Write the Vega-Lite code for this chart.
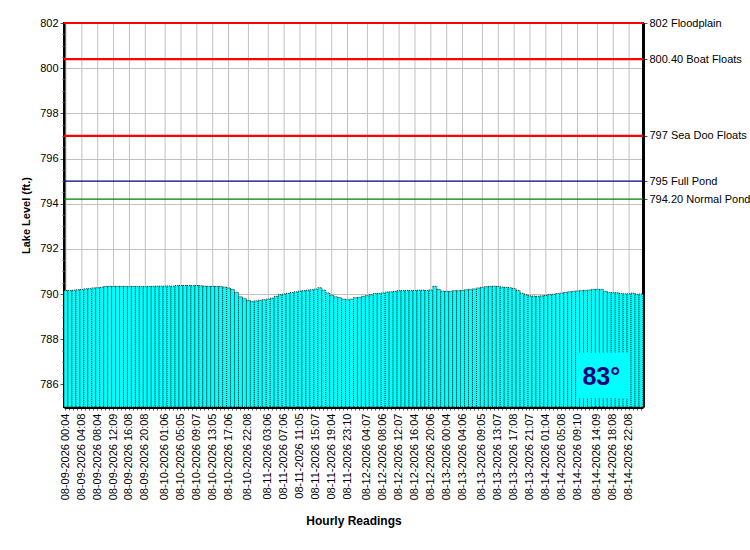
{
  "$schema": "https://vega.github.io/schema/vega-lite/v6.json",
  "width": 579,
  "height": 384,
  "autosize": {"type": "none"},
  "padding": {"left": 64, "top": 23, "right": 107, "bottom": 143},
  "background": "white",
  "params": [
    {
      "name": "labs",
      "value": [
        "08-09-2026 00:04", "08-09-2026 04:08", "08-09-2026 08:04", "08-09-2026 12:09", "08-09-2026 16:08", "08-09-2026 20:08",
        "08-10-2026 01:06", "08-10-2026 05:05", "08-10-2026 09:07", "08-10-2026 13:05", "08-10-2026 17:06", "08-10-2026 22:08",
        "08-11-2026 03:06", "08-11-2026 07:06", "08-11-2026 11:05", "08-11-2026 15:07", "08-11-2026 19:04", "08-11-2026 23:10",
        "08-12-2026 04:07", "08-12-2026 08:06", "08-12-2026 12:07", "08-12-2026 16:04", "08-12-2026 20:06",
        "08-13-2026 00:04", "08-13-2026 04:06", "08-13-2026 09:05", "08-13-2026 13:07", "08-13-2026 17:08", "08-13-2026 21:07",
        "08-14-2026 01:04", "08-14-2026 05:08", "08-14-2026 09:10", "08-14-2026 14:09", "08-14-2026 18:08", "08-14-2026 22:08"
      ]
    }
  ],
  "datasets": {
    "readings": [
      {"time": "08-09-2026 00:04", "level": 790.16},
      {"time": "08-09-2026 01:05", "level": 790.16},
      {"time": "08-09-2026 02:05", "level": 790.17},
      {"time": "08-09-2026 03:05", "level": 790.19},
      {"time": "08-09-2026 04:08", "level": 790.20},
      {"time": "08-09-2026 05:05", "level": 790.23},
      {"time": "08-09-2026 06:05", "level": 790.24},
      {"time": "08-09-2026 07:05", "level": 790.27},
      {"time": "08-09-2026 08:04", "level": 790.28},
      {"time": "08-09-2026 09:05", "level": 790.30},
      {"time": "08-09-2026 10:05", "level": 790.33},
      {"time": "08-09-2026 11:05", "level": 790.34},
      {"time": "08-09-2026 12:09", "level": 790.34},
      {"time": "08-09-2026 13:05", "level": 790.34},
      {"time": "08-09-2026 14:05", "level": 790.34},
      {"time": "08-09-2026 15:05", "level": 790.33},
      {"time": "08-09-2026 16:08", "level": 790.33},
      {"time": "08-09-2026 17:05", "level": 790.34},
      {"time": "08-09-2026 18:05", "level": 790.33},
      {"time": "08-09-2026 19:05", "level": 790.33},
      {"time": "08-09-2026 20:08", "level": 790.33},
      {"time": "08-09-2026 21:05", "level": 790.34},
      {"time": "08-09-2026 22:05", "level": 790.34},
      {"time": "08-09-2026 23:05", "level": 790.35},
      {"time": "08-10-2026 00:05", "level": 790.35},
      {"time": "08-10-2026 01:06", "level": 790.35},
      {"time": "08-10-2026 02:05", "level": 790.36},
      {"time": "08-10-2026 03:05", "level": 790.35},
      {"time": "08-10-2026 04:05", "level": 790.37},
      {"time": "08-10-2026 05:05", "level": 790.38},
      {"time": "08-10-2026 06:05", "level": 790.38},
      {"time": "08-10-2026 07:05", "level": 790.38},
      {"time": "08-10-2026 08:05", "level": 790.37},
      {"time": "08-10-2026 09:07", "level": 790.38},
      {"time": "08-10-2026 10:05", "level": 790.37},
      {"time": "08-10-2026 11:05", "level": 790.35},
      {"time": "08-10-2026 12:05", "level": 790.34},
      {"time": "08-10-2026 13:05", "level": 790.34},
      {"time": "08-10-2026 14:05", "level": 790.34},
      {"time": "08-10-2026 15:05", "level": 790.33},
      {"time": "08-10-2026 16:05", "level": 790.31},
      {"time": "08-10-2026 17:06", "level": 790.27},
      {"time": "08-10-2026 18:05", "level": 790.20},
      {"time": "08-10-2026 19:05", "level": 790.07},
      {"time": "08-10-2026 20:05", "level": 789.88},
      {"time": "08-10-2026 21:05", "level": 789.80},
      {"time": "08-10-2026 22:08", "level": 789.72},
      {"time": "08-10-2026 23:05", "level": 789.68},
      {"time": "08-11-2026 00:05", "level": 789.70},
      {"time": "08-11-2026 01:05", "level": 789.73},
      {"time": "08-11-2026 02:05", "level": 789.75},
      {"time": "08-11-2026 03:06", "level": 789.78},
      {"time": "08-11-2026 04:05", "level": 789.82},
      {"time": "08-11-2026 05:05", "level": 789.90},
      {"time": "08-11-2026 06:05", "level": 789.97},
      {"time": "08-11-2026 07:06", "level": 790.00},
      {"time": "08-11-2026 08:05", "level": 790.03},
      {"time": "08-11-2026 09:05", "level": 790.07},
      {"time": "08-11-2026 10:05", "level": 790.10},
      {"time": "08-11-2026 11:05", "level": 790.13},
      {"time": "08-11-2026 12:05", "level": 790.15},
      {"time": "08-11-2026 13:05", "level": 790.17},
      {"time": "08-11-2026 14:05", "level": 790.19},
      {"time": "08-11-2026 15:07", "level": 790.22},
      {"time": "08-11-2026 16:05", "level": 790.28},
      {"time": "08-11-2026 17:05", "level": 790.18},
      {"time": "08-11-2026 18:05", "level": 790.05},
      {"time": "08-11-2026 19:04", "level": 789.95},
      {"time": "08-11-2026 20:05", "level": 789.88},
      {"time": "08-11-2026 21:05", "level": 789.84},
      {"time": "08-11-2026 22:05", "level": 789.78},
      {"time": "08-11-2026 23:10", "level": 789.75},
      {"time": "08-12-2026 00:05", "level": 789.78},
      {"time": "08-12-2026 01:05", "level": 789.84},
      {"time": "08-12-2026 02:05", "level": 789.85},
      {"time": "08-12-2026 03:05", "level": 789.90},
      {"time": "08-12-2026 04:07", "level": 789.93},
      {"time": "08-12-2026 05:05", "level": 789.97},
      {"time": "08-12-2026 06:05", "level": 790.02},
      {"time": "08-12-2026 07:05", "level": 790.03},
      {"time": "08-12-2026 08:06", "level": 790.05},
      {"time": "08-12-2026 09:05", "level": 790.09},
      {"time": "08-12-2026 10:05", "level": 790.10},
      {"time": "08-12-2026 11:05", "level": 790.12},
      {"time": "08-12-2026 12:07", "level": 790.15},
      {"time": "08-12-2026 13:05", "level": 790.15},
      {"time": "08-12-2026 14:05", "level": 790.16},
      {"time": "08-12-2026 15:05", "level": 790.15},
      {"time": "08-12-2026 16:04", "level": 790.16},
      {"time": "08-12-2026 17:05", "level": 790.17},
      {"time": "08-12-2026 18:05", "level": 790.17},
      {"time": "08-12-2026 19:05", "level": 790.16},
      {"time": "08-12-2026 20:06", "level": 790.18},
      {"time": "08-12-2026 21:05", "level": 790.34},
      {"time": "08-12-2026 22:05", "level": 790.20},
      {"time": "08-12-2026 23:05", "level": 790.13},
      {"time": "08-13-2026 00:04", "level": 790.12},
      {"time": "08-13-2026 01:05", "level": 790.12},
      {"time": "08-13-2026 02:05", "level": 790.15},
      {"time": "08-13-2026 03:05", "level": 790.15},
      {"time": "08-13-2026 04:06", "level": 790.16},
      {"time": "08-13-2026 05:05", "level": 790.19},
      {"time": "08-13-2026 06:05", "level": 790.21},
      {"time": "08-13-2026 07:05", "level": 790.23},
      {"time": "08-13-2026 08:05", "level": 790.27},
      {"time": "08-13-2026 09:05", "level": 790.29},
      {"time": "08-13-2026 10:05", "level": 790.33},
      {"time": "08-13-2026 11:05", "level": 790.34},
      {"time": "08-13-2026 12:05", "level": 790.35},
      {"time": "08-13-2026 13:07", "level": 790.34},
      {"time": "08-13-2026 14:05", "level": 790.31},
      {"time": "08-13-2026 15:05", "level": 790.30},
      {"time": "08-13-2026 16:05", "level": 790.28},
      {"time": "08-13-2026 17:08", "level": 790.24},
      {"time": "08-13-2026 18:05", "level": 790.16},
      {"time": "08-13-2026 19:05", "level": 790.04},
      {"time": "08-13-2026 20:05", "level": 789.97},
      {"time": "08-13-2026 21:07", "level": 789.92},
      {"time": "08-13-2026 22:05", "level": 789.91},
      {"time": "08-13-2026 23:05", "level": 789.90},
      {"time": "08-14-2026 00:05", "level": 789.92},
      {"time": "08-14-2026 01:04", "level": 789.94},
      {"time": "08-14-2026 02:05", "level": 789.97},
      {"time": "08-14-2026 03:05", "level": 789.99},
      {"time": "08-14-2026 04:05", "level": 790.02},
      {"time": "08-14-2026 05:08", "level": 790.04},
      {"time": "08-14-2026 06:05", "level": 790.07},
      {"time": "08-14-2026 07:05", "level": 790.10},
      {"time": "08-14-2026 08:05", "level": 790.12},
      {"time": "08-14-2026 09:10", "level": 790.14},
      {"time": "08-14-2026 10:05", "level": 790.15},
      {"time": "08-14-2026 11:05", "level": 790.16},
      {"time": "08-14-2026 12:05", "level": 790.18},
      {"time": "08-14-2026 13:05", "level": 790.21},
      {"time": "08-14-2026 14:09", "level": 790.21},
      {"time": "08-14-2026 15:05", "level": 790.21},
      {"time": "08-14-2026 16:05", "level": 790.12},
      {"time": "08-14-2026 17:05", "level": 790.07},
      {"time": "08-14-2026 18:08", "level": 790.06},
      {"time": "08-14-2026 19:05", "level": 790.06},
      {"time": "08-14-2026 20:05", "level": 790.02},
      {"time": "08-14-2026 21:05", "level": 790.01},
      {"time": "08-14-2026 22:08", "level": 790.01},
      {"time": "08-14-2026 23:05", "level": 790.04},
      {"time": "08-15-2026 00:05", "level": 789.99},
      {"time": "08-15-2026 01:05", "level": 790.00}
    ],
    "marks": [
      {"level": 802, "label": "802 Floodplain"},
      {"level": 800.4, "label": "800.40 Boat Floats"},
      {"level": 797, "label": "797 Sea Doo Floats"},
      {"level": 795, "label": "795 Full Pond"},
      {"level": 794.2, "label": "794.20 Normal Pond"}
    ],
    "temperature": [
      {"reading": "83°"}
    ]
  },
  "resolve": {"axis": {"y": "independent"}},
  "layer": [
    {
      "data": {"name": "readings"},
      "mark": {"type": "rule", "color": "#c0c0c0", "strokeWidth": 1},
      "encoding": {
        "x": {"field": "time", "type": "nominal", "sort": null},
        "strokeOpacity": {
          "condition": {"test": "indexof(labs, datum.time) >= 0", "value": 1},
          "value": 0
        }
      }
    },
    {
      "data": {"name": "readings"},
      "mark": {
        "type": "bar",
        "fill": "#00FFFF",
        "stroke": "#000000",
        "strokeWidth": 0.8,
        "strokeDash": [1, 1]
      },
      "encoding": {
        "x": {
          "field": "time",
          "type": "nominal",
          "sort": null,
          "scale": {"paddingInner": 0, "paddingOuter": 0},
          "axis": {
            "title": "Hourly Readings",
            "titleFontSize": 12,
            "titlePadding": 16,
            "labelAngle": 270,
            "labelExpr": "indexof(labs, datum.value) >= 0 ? datum.value : ''",
            "labelOverlap": false,
            "labelPadding": 3,
            "bandPosition": 0.5,
            "grid": false,
            "tickColor": "#666666",
            "tickSize": 3,
            "domainColor": "#000000",
            "domainWidth": 3
          }
        },
        "y": {
          "field": "level",
          "type": "quantitative",
          "scale": {"domain": [785, 802], "nice": false, "zero": false},
          "axis": {
            "title": "Lake Level (ft.)",
            "titlePadding": 8,
            "values": [786, 788, 790, 792, 794, 796, 798, 800, 802],
            "format": "d",
            "labelPadding": 2,
            "grid": true,
            "gridColor": "#c0c0c0",
            "tickSize": 4,
            "tickColor": "#555555",
            "domainColor": "#000000",
            "domainWidth": 3
          }
        },
        "y2": {"datum": 785}
      }
    },
    {
      "data": {"name": "marks"},
      "mark": {"type": "rule"},
      "encoding": {
        "y": {
          "field": "level",
          "type": "quantitative",
          "scale": {"domain": [785, 802], "nice": false, "zero": false},
          "axis": {
            "orient": "right",
            "title": null,
            "values": [802, 800.4, 797, 795, 794.2],
            "labelExpr": "datum.value === 802 ? '802 Floodplain' : datum.value === 800.4 ? '800.40 Boat Floats' : datum.value === 797 ? '797 Sea Doo Floats' : datum.value === 795 ? '795 Full Pond' : '794.20 Normal Pond'",
            "labelPadding": 2,
            "grid": false,
            "tickSize": 4,
            "tickColor": "#555555",
            "domainColor": "#000000",
            "domainWidth": 3
          }
        },
        "color": {
          "field": "label",
          "type": "nominal",
          "scale": {
            "domain": ["802 Floodplain", "800.40 Boat Floats", "797 Sea Doo Floats", "795 Full Pond", "794.20 Normal Pond"],
            "range": ["#ff0000", "#ff0000", "#ff0000", "#000080", "#008000"]
          },
          "legend": null
        },
        "strokeWidth": {
          "condition": {"test": "datum.level < 796", "value": 1.3},
          "value": 2.2
        }
      }
    },
    {
      "data": {"name": "temperature"},
      "mark": {"type": "rect", "color": "#00FFFF"},
      "encoding": {
        "x": {"datum": "08-14-2026 09:10", "type": "nominal"},
        "x2": {"datum": "08-14-2026 22:08"},
        "y": {
          "datum": 785.4,
          "type": "quantitative",
          "axis": {
            "orient": "left",
            "title": null,
            "values": [785.5, 786.5, 787, 787.5, 788.5, 789, 789.5, 790.5, 791, 791.5, 792.5, 793, 793.5, 794.5, 795, 795.5, 796.5, 797, 797.5, 798.5, 799, 799.5, 800.5, 801, 801.5],
            "labels": false,
            "domain": false,
            "grid": false,
            "ticks": true,
            "tickSize": 2,
            "tickColor": "#555555"
          }
        },
        "y2": {"datum": 787.4}
      }
    },
    {
      "data": {"name": "temperature"},
      "mark": {"type": "text", "fontSize": 25, "fontWeight": "bold", "color": "#000080", "baseline": "middle"},
      "encoding": {
        "x": {"datum": "08-14-2026 15:05", "type": "nominal"},
        "y": {"datum": 786.35, "type": "quantitative", "axis": null},
        "text": {"field": "reading"}
      }
    }
  ],
  "config": {
    "font": "Liberation Sans",
    "view": {"stroke": "#000000", "strokeWidth": 2},
    "axis": {
      "labelFont": "Liberation Sans",
      "titleFont": "Liberation Sans",
      "labelFontSize": 11,
      "titleFontSize": 11,
      "titleFontWeight": "bold",
      "labelColor": "#000000",
      "titleColor": "#000000"
    },
    "text": {"font": "Liberation Sans"}
  }
}
